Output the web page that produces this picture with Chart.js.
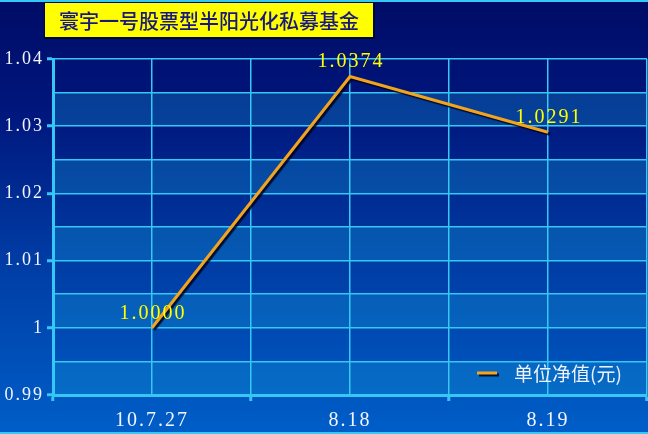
<!DOCTYPE html>
<html>
<head>
<meta charset="utf-8">
<script src="https://cdn.jsdelivr.net/npm/chart.js@4/dist/chart.umd.min.js"></script>
<style>
html,body{margin:0;padding:0;background:#00106e;}
canvas{display:block;}
</style>
</head>
<body>
<canvas id="c" width="648" height="434"></canvas>
<script>
const chartTitle = '寰宇一号股票型半阳光化私募基金';
const seriesName = '单位净值(元)';
const categories = ['10.7.27', '8.18', '8.19'];
const navValues = [1.0000, 1.0374, 1.0291];
const yTickLabels = ['0.99', '1', '1.01', '1.02', '1.03', '1.04'];

const CYAN = '#36c8f4';
const ORANGE = '#f2a41c';

const bgPlugin = {
  id: 'bg',
  beforeDraw(chart) {
    const ctx = chart.ctx, W = chart.width, H = chart.height;
    ctx.save();
    const g = ctx.createLinearGradient(0, 0, 0, H);
    g.addColorStop(0, '#000c66');
    g.addColorStop(0.25, '#00167c');
    g.addColorStop(0.6, '#003ca4');
    g.addColorStop(1, '#005ec8');
    ctx.fillStyle = g;
    ctx.fillRect(0, 0, W, H);
    const a = chart.chartArea, ys = chart.scales.y;
    const ticks = ys.ticks;
    for (let i = 0; i < ticks.length - 1; i++) {
      if (i % 2 === 0) {
        const y1 = ys.getPixelForValue(ticks[i].value);
        const y2 = ys.getPixelForValue(ticks[i + 1].value);
        ctx.fillStyle = 'rgba(20,160,215,0.3)';
        ctx.fillRect(a.left, y2, a.right - a.left, y1 - y2);
      }
    }
    ctx.fillStyle = CYAN;
    ctx.fillRect(0, 0, W, 2);
    ctx.fillRect(0, H - 2, W, 2);
    ctx.restore();
    chart.ctx.letterSpacing = '2px';
  },
  beforeDatasetsDraw(chart) {
    const ctx = chart.ctx;
    ctx.save();
    ctx.shadowColor = 'rgba(0,0,30,0.85)';
    ctx.shadowOffsetX = 2;
    ctx.shadowOffsetY = 2;
    ctx.shadowBlur = 1;
  },
  afterDatasetsDraw(chart) {
    const ctx = chart.ctx;
    ctx.restore();
    const meta = chart.getDatasetMeta(0);
    ctx.save();
    ctx.letterSpacing = '2px';
    ctx.font = '20px "Liberation Serif"';
    ctx.fillStyle = '#ffff00';
    ctx.textAlign = 'center';
    ctx.textBaseline = 'alphabetic';
    meta.data.forEach((pt, i) => {
      ctx.fillText(navValues[i].toFixed(4), pt.x + 1, pt.y - 9);
    });
    ctx.restore();
  },
  afterDraw(chart) {
    const ctx = chart.ctx;
    ctx.save();
    ctx.fillStyle = '#000830';
    ctx.fillRect(44, 3, 331, 36);
    ctx.fillStyle = '#ffff00';
    ctx.fillRect(45, 3, 328, 34);
    ctx.letterSpacing = '0px';
    ctx.font = '500 20px "Noto Sans CJK SC"';
    ctx.fillStyle = '#18187e';
    ctx.textAlign = 'left';
    ctx.textBaseline = 'middle';
    ctx.fillText(chartTitle, 59, 21);
    ctx.shadowColor = 'rgba(0,0,30,0.85)';
    ctx.shadowOffsetX = 2;
    ctx.shadowOffsetY = 2;
    ctx.strokeStyle = ORANGE;
    ctx.lineWidth = 3;
    ctx.beginPath();
    ctx.moveTo(477, 373);
    ctx.lineTo(497, 373);
    ctx.stroke();
    ctx.shadowColor = 'transparent';
    ctx.font = '19px "Noto Sans CJK SC"';
    ctx.fillStyle = '#eef2ff';
    ctx.fillText(seriesName, 514, 374);
    ctx.restore();
  }
};

new Chart(document.getElementById('c'), {
  type: 'line',
  data: {
    datasets: [{
      label: seriesName,
      data: navValues.map((v, i) => ({ x: i, y: v })),
      borderColor: ORANGE,
      borderWidth: 3,
      pointRadius: 0,
      tension: 0,
      fill: false
    }]
  },
  options: {
    responsive: false,
    animation: false,
    layout: { padding: { top: 59, right: 1, left: 0, bottom: 0 } },
    plugins: { legend: { display: false }, tooltip: { enabled: false }, title: { display: false } },
    scales: {
      x: {
        type: 'linear',
        min: -0.5,
        max: 2.5,
        afterFit(s) { s.height = 39; s.paddingLeft = 0; s.paddingRight = 0; },
        ticks: {
          stepSize: 0.5,
          autoSkip: false,
          maxRotation: 0,
          padding: 8,
          color: '#f2f4ff',
          font: { family: 'Liberation Serif', size: 20 },
          callback: (v, i) => (i % 2 === 1 ? categories[(i - 1) / 2] : '')
        },
        grid: {
          color: CYAN,
          lineWidth: 1.5,
          tickLength: 6,
          tickColor: (c) => (c.index % 2 === 0 ? CYAN : 'rgba(0,0,0,0)'),
          tickWidth: 3
        },
        border: { color: CYAN, width: 3 }
      },
      y: {
        min: 0.99,
        max: 1.04,
        afterFit(s) { s.width = 53; s.paddingTop = 0; s.paddingBottom = 0; },
        ticks: {
          stepSize: 0.005,
          autoSkip: false,
          padding: 3,
          color: '#f2f4ff',
          font: { family: 'Liberation Serif', size: 18 },
          callback: (v, i) => (i % 2 === 0 ? yTickLabels[i / 2] : '')
        },
        grid: {
          color: CYAN,
          lineWidth: 1.5,
          tickLength: 6,
          tickColor: (c) => (c.index % 2 === 0 ? CYAN : 'rgba(0,0,0,0)'),
          tickWidth: 3
        },
        border: { color: CYAN, width: 3 }
      }
    }
  },
  plugins: [bgPlugin]
});
</script>
</body>
</html>
